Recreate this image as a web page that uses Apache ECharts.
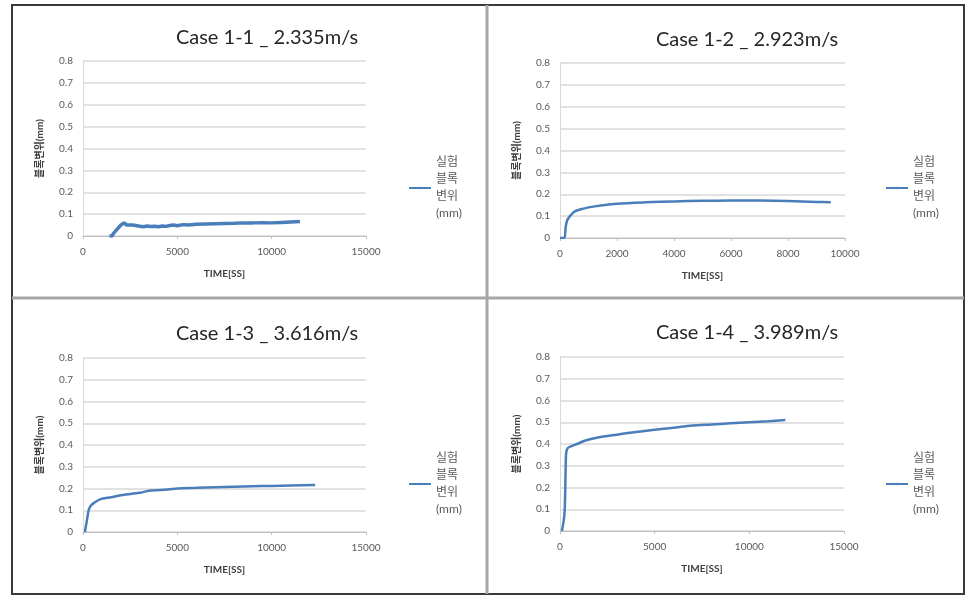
<!DOCTYPE html>
<html><head><meta charset="utf-8">
<script src="https://cdn.jsdelivr.net/npm/echarts@6/dist/echarts.min.js"></script>
<style>html,body{margin:0;padding:0;background:#fff}#c{width:975px;height:602px}</style>
</head><body><div id="c"></div>
<script>
const titles = ['Case 1-1 _ 2.335m/s', 'Case 1-2 _ 2.923m/s', 'Case 1-3 _ 3.616m/s', 'Case 1-4 _ 3.989m/s'];
const seriesName = '실험 블록 변위(mm)';
const legendText = '실험\n블록\n변위\n(mm)';
const xName = 'TIME[SS]';
const yName = '블록변위(mm)';
const xMax = [15000, 10000, 15000, 15000];
const xInterval = [5000, 2000, 5000, 5000];
const yTicks = [0, 0.1, 0.2, 0.3, 0.4, 0.5, 0.6, 0.7, 0.8];

const case11 = [[1400,0],[1550,0],[1600,0.01],[1650,0.005],[1700,0.02],[1750,0.015],[1800,0.03],[1850,0.03],[1900,0.04],[1950,0.04],[2000,0.05],[2100,0.055],[2200,0.06],[2300,0.05],[2400,0.045],[2600,0.05],[2800,0.048],[3000,0.045],[3200,0.042],[3400,0.046],[3600,0.043],[3800,0.045],[4000,0.042],[4200,0.046],[4400,0.044],[4600,0.048],[4800,0.05],[5000,0.047],[5300,0.052],[5600,0.05],[6000,0.054],[6500,0.055],[7000,0.056],[7500,0.057],[8000,0.058],[8500,0.06],[9000,0.06],[9500,0.061],[10000,0.06],[10500,0.062],[11000,0.064],[11500,0.066]];
const case12 = [[0,0],[150,0],[200,0.05],[250,0.08],[350,0.1],[500,0.12],[700,0.13],[1000,0.14],[1500,0.15],[2000,0.157],[3000,0.163],[4000,0.167],[5000,0.17],[6000,0.172],[7000,0.171],[8000,0.169],[9000,0.165],[9500,0.163]];
const case13 = [[100,0],[200,0.05],[300,0.1],[400,0.12],[600,0.135],[900,0.15],[1500,0.16],[2100,0.17],[3000,0.18],[3500,0.19],[4500,0.195],[5000,0.2],[6000,0.203],[7000,0.206],[8000,0.208],[9000,0.21],[10000,0.212],[11000,0.214],[12300,0.216]];
const case14 = [[100,0],[200,0.05],[250,0.1],[280,0.2],[300,0.3],[330,0.36],[400,0.38],[600,0.39],[900,0.4],[1300,0.415],[2000,0.43],[3000,0.443],[4000,0.455],[5000,0.465],[6000,0.475],[7000,0.485],[8000,0.49],[9000,0.495],[10000,0.5],[11000,0.505],[11900,0.51]];
const allData = [case11, case12, case13, case14];

const grids = [
  {left: 83, top: 61, width: 283, height: 175},
  {left: 560, top: 63, width: 285, height: 175},
  {left: 83, top: 358, width: 283, height: 174},
  {left: 560, top: 357, width: 284, height: 174}
];
const titlePos = [[262, 23], [742, 25], [262, 319], [742, 318]];
const legendPos = [[403, 149], [880, 149], [403, 445], [880, 445]];
const lineWidths = [3.5, 2.5, 2.5, 2.5];

const font = 'Lato, "Noto Sans CJK KR", sans-serif';
const opt = {
  backgroundColor: '#fff',
  animation: false,
  title: titles.map((t, i) => ({
    text: t, left: titlePos[i][0], top: titlePos[i][1], textAlign: 'center',
    textStyle: {fontFamily: font, fontSize: 20, fontWeight: 'normal', color: '#262626'}
  })),
  legend: titles.map((t, i) => ({
    data: [seriesName], left: legendPos[i][0], top: legendPos[i][1],
    itemWidth: 22, itemHeight: 3, itemGap: 4, selectedMode: false,
    formatter: () => legendText,
    textStyle: {fontFamily: font, fontSize: 12, color: '#595959', lineHeight: 17}
  })),
  grid: grids,
  xAxis: grids.map((g, i) => ({
    gridIndex: i, type: 'value', min: 0, max: xMax[i], interval: xInterval[i],
    name: xName, nameLocation: 'middle', nameGap: 33,
    nameTextStyle: {fontFamily: font, fontSize: 10, fontWeight: 'bold', color: '#404040'},
    axisLine: {lineStyle: {color: '#bfbfbf', width: 1}},
    axisTick: {show: true, inside: false, length: 3, lineStyle: {color: '#bfbfbf'}},
    axisLabel: {fontFamily: font, fontSize: 10, color: '#595959', margin: 11, formatter: v => String(v)},
    splitLine: {show: false}
  })),
  yAxis: grids.map((g, i) => ({
    gridIndex: i, type: 'value', min: 0, max: 0.8, interval: 0.1,
    name: yName, nameLocation: 'middle', nameGap: 38, nameRotate: 90,
    nameTextStyle: {fontFamily: font, fontSize: 10, fontWeight: 'bold', color: '#404040'},
    axisLine: {show: true, lineStyle: {color: '#d9d9d9'}},
    axisTick: {show: false},
    axisLabel: {fontFamily: font, fontSize: 10, color: '#595959', margin: 10,
      formatter: v => { const r = Math.round(v * 10) / 10; return yTicks.includes(r) ? String(r) : ''; }},
    splitLine: {show: true, lineStyle: {color: '#d9d9d9', width: 1.5}}
  })),
  series: allData.map((d, i) => ({
    name: seriesName, type: 'line', xAxisIndex: i, yAxisIndex: i, data: d,
    symbol: 'none', smooth: i === 0 ? false : 0.3,
    lineStyle: {color: '#4a7ebb', width: lineWidths[i]}, itemStyle: {color: '#4a7ebb'}
  })),
  graphic: [
    {type: 'rect', shape: {x: 12, y: 5, width: 952, height: 589}, style: {fill: null, stroke: '#3a3a3a', lineWidth: 2}, silent: true, z: 100},
    {type: 'line', shape: {x1: 487, y1: 5, x2: 487, y2: 594}, style: {stroke: '#a6a6a6', lineWidth: 3}, silent: true, z: 100},
    {type: 'line', shape: {x1: 12, y1: 298, x2: 964, y2: 298}, style: {stroke: '#a6a6a6', lineWidth: 3}, silent: true, z: 100}
  ]
};
const chart = echarts.init(document.getElementById('c'), null, {renderer: 'canvas'});
chart.setOption(opt);
</script>
</body></html>
